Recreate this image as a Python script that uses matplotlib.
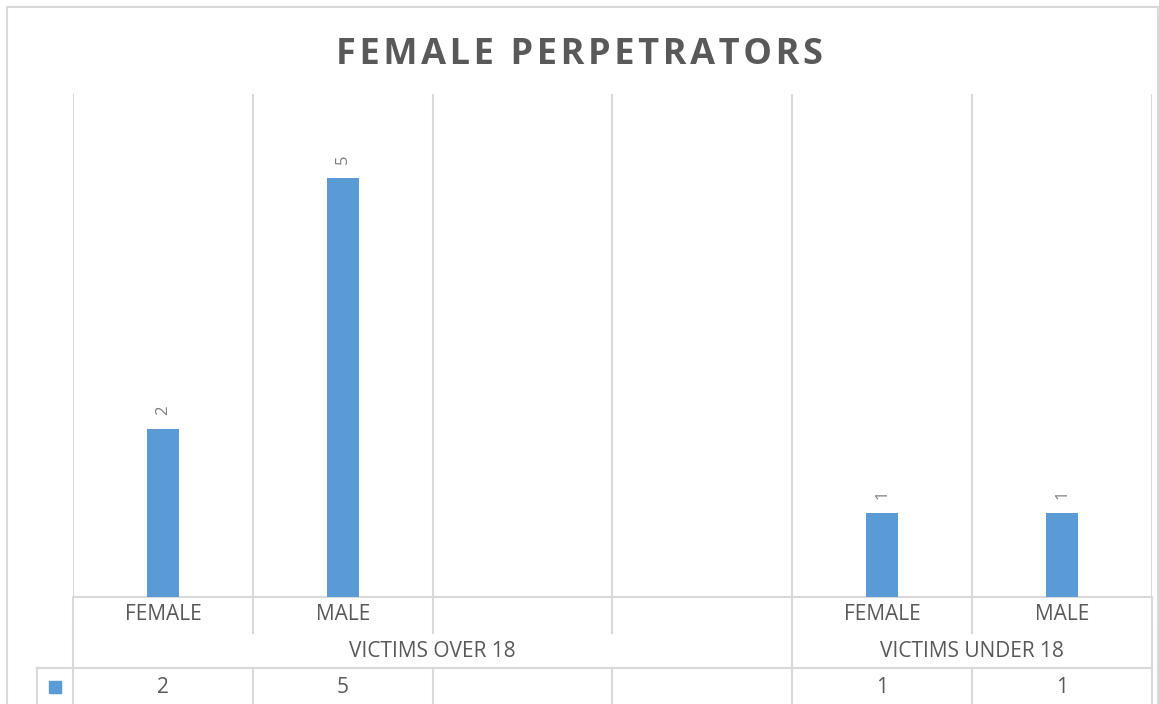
import numpy as np
import matplotlib
matplotlib.use("Agg")
import matplotlib.pyplot as plt
from matplotlib.patches import Rectangle

# Data
categories = ["FEMALE", "MALE", "", "", "FEMALE", "MALE"]
values = [2, 5, np.nan, np.nan, 1, 1]
groups = ["VICTIMS OVER 18", "VICTIMS UNDER 18"]
group_members = [[0, 1, 2, 3], [4, 5]]
title = "FEMALE PERPETRATORS"

bar_color = "#5B9BD5"
grid_color = "#D9D9D9"
text_color = "#595959"
W, H = 1159, 704

plt.rcParams["font.family"] = ["Open Sans", "DejaVu Sans"]

fig = plt.figure(figsize=(W / 100, H / 100), dpi=100)

# outer chart border
fig.patches.append(Rectangle((6.5 / W, -0.05), (1157.5 - 6.5) / W, (H - 7) / H + 0.05,
                             transform=fig.transFigure, fill=False,
                             edgecolor=grid_color, linewidth=1.5))

left, right, top, bottom = 73, 1152, 94, 597
ax = fig.add_axes([left / W, 1 - bottom / H, (right - left) / W, (bottom - top) / H])

x = np.arange(len(categories))
ax.bar(x, values, width=0.18, color=bar_color, zorder=3)
for xi, v in zip(x, values):
    if not np.isnan(v):
        ax.annotate(f"{v:g}", (xi, v), xytext=(0, 10), textcoords="offset points",
                    rotation=90, ha="center", va="bottom", fontsize=12, color="#7F7F7F")

ax.set_xlim(-0.5, len(categories) - 0.5)
ax.set_ylim(0, 6)
ax.set_xticks(np.arange(-0.5, len(categories)), minor=True)
ax.set_xticks([])
ax.set_yticks([])
ax.grid(True, which="minor", axis="x", color=grid_color, linewidth=1.5)
ax.tick_params(which="both", length=0)
for s in ["left", "right", "top"]:
    ax.spines[s].set_visible(False)
ax.spines["bottom"].set_color(grid_color)
ax.spines["bottom"].set_linewidth(1.5)

# data table below the plot area
tb = fig.add_axes([left / W, 0, (right - left) / W, (H - bottom) / H])
tb.set_xlim(ax.get_xlim())
tb.set_ylim(H, bottom)
tb.axis("off")

row1, row2, row3 = bottom, 633, 668
n = len(categories)
bounds = np.arange(-0.5, n)
legend_x = -0.5 - 36 / 180
lk = dict(color=grid_color, linewidth=1.5, clip_on=False)

for b in bounds:
    tb.plot([b, b], [row1, row2], **lk)
    tb.plot([b, b], [row3, H], **lk)
group_edges = sorted({min(g) - 0.5 for g in group_members} | {max(g) + 0.5 for g in group_members})
for b in group_edges:
    tb.plot([b, b], [row2, row3], **lk)
tb.plot([legend_x, legend_x], [row3, H], **lk)
tb.plot([legend_x, n - 0.5], [row3, row3], **lk)

fs = 15
for xi, c in zip(x, categories):
    tb.text(xi, (row1 + row2) / 2, c, ha="center", va="center", fontsize=fs, color=text_color)
for g, members in zip(groups, group_members):
    tb.text(np.mean(members), (row2 + row3) / 2 + 1, g, ha="center", va="center",
            fontsize=fs, color=text_color)
for xi, v in zip(x, values):
    if not np.isnan(v):
        tb.text(xi, (row3 + H) / 2 + 2, f"{v:g}", ha="center", va="center",
                fontsize=fs, color=text_color)
tb.add_patch(Rectangle((legend_x + 0.5 * (-0.5 - legend_x) - 0.035, 681), 0.07, 12,
                       color=bar_color, clip_on=False))

# Excel-style spaced title
fig.text(0.5, 1 - 55 / H, "\u200a".join(title), ha="center", va="center",
         fontsize=26, fontweight="bold", color=text_color)

fig.savefig("out.png", dpi=100)
